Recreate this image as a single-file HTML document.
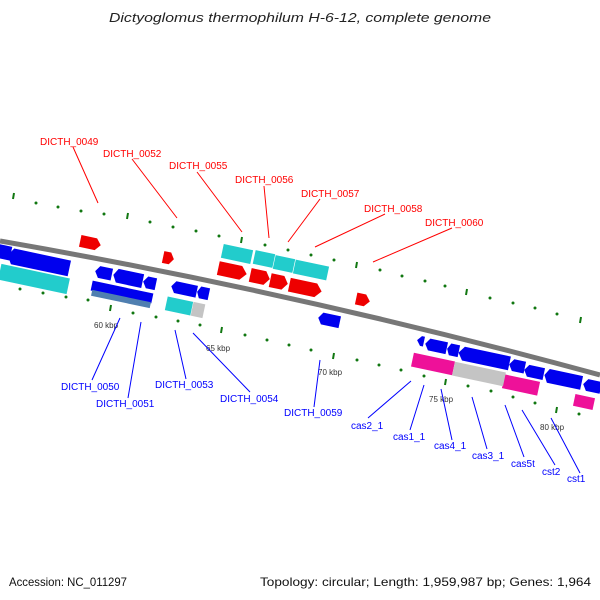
<!DOCTYPE html>
<html><head><meta charset="utf-8"><style>
body{margin:0;background:#fff}
svg{display:block;font-family:"Liberation Sans",sans-serif}
.r{fill:#f00;font-size:10px}.b{fill:#00f;font-size:10px}.k{fill:#333;font-size:8px}
</style></head><body>
<svg width="600" height="600" viewBox="0 0 600 600">
<text x="109" y="22" textLength="382" lengthAdjust="spacingAndGlyphs" font-size="13" font-style="italic" fill="#222">Dictyoglomus thermophilum H-6-12, complete genome</text>
<path d="M0,241 Q300,293 600,375" stroke="#777" stroke-width="5" fill="none"/>
<g stroke="none">
<g fill="#ee0000">
<polygon transform="translate(90,243) rotate(12)" points="-10,-6 6,-6 11,0 6,6 -10,6"/>
<polygon transform="translate(168,258) rotate(12)" points="-5,-6 2,-6 6,0 2,6 -5,6"/>
<polygon transform="translate(232,271) rotate(12)" points="-14,-7 9,-7 15,0 9,7 -14,7"/>
<polygon transform="translate(260,277) rotate(12)" points="-10,-7 5,-7 10,0 5,7 -10,7"/>
<polygon transform="translate(279,282) rotate(12)" points="-9,-7 4,-7 9,0 4,7 -9,7"/>
<polygon transform="translate(305,288) rotate(12)" points="-16,-7 11,-7 17,0 11,7 -16,7"/>
<polygon transform="translate(363,300) rotate(12)" points="-7,-6 2,-6 7,0 2,6 -7,6"/>
</g>
<g fill="#22cccc">
<rect transform="translate(237,254) rotate(12)" x="-15" y="-7" width="30" height="14"/>
<rect transform="translate(264,259) rotate(12)" x="-10" y="-7" width="20" height="14"/>
<rect transform="translate(284,264) rotate(12)" x="-10" y="-7" width="20" height="14"/>
<rect transform="translate(311,270) rotate(12)" x="-17" y="-7" width="34" height="14"/>
<rect transform="translate(34,279) rotate(12)" x="-35" y="-8" width="70" height="16"/>
<rect transform="translate(179,306) rotate(12)" x="-13" y="-7" width="26" height="14"/>
</g>
<rect transform="translate(198,310) rotate(12)" x="-6" y="-7" width="12" height="14" fill="#c4c4c4"/>
<g fill="#0000ee">
<polygon transform="translate(3,252) rotate(12)" points="-8,-7 8,-7 8,7 -8,7"/>
<polygon transform="translate(39,262) rotate(12)" points="-27,-8 31,-8 31,8 -27,8 -32,0"/>
<polygon transform="translate(104,273) rotate(12)" points="-5,-6 8,-6 8,6 -5,6 -9,0"/>
<polygon transform="translate(128,278) rotate(12)" points="-11,-7 15,-7 15,7 -11,7 -15,0"/>
<polygon transform="translate(150,283) rotate(12)" points="-3,-6 6,-6 6,6 -3,6 -7,0"/>
<rect transform="translate(122,292) rotate(12)" x="-31" y="-5" width="62" height="10"/>
<polygon transform="translate(184,289) rotate(12)" points="-9,-6 13,-6 13,6 -9,6 -13,0"/>
<polygon transform="translate(203,293) rotate(12)" points="-3,-6 6,-6 6,6 -3,6 -6,0"/>
<polygon transform="translate(329,320) rotate(12)" points="-7,-6 11,-6 11,6 -7,6 -11,0"/>
<polygon transform="translate(421,341) rotate(12)" points="0,-5 3,-5 3,5 0,5 -4,0"/>
<polygon transform="translate(436,346) rotate(12)" points="-7,-6 11,-6 11,6 -7,6 -11,0"/>
<polygon transform="translate(453,350) rotate(12)" points="-3,-6 6,-6 6,6 -3,6 -6,0"/>
<polygon transform="translate(484,358) rotate(12)" points="-21,-7 26,-7 26,7 -21,7 -26,0"/>
<polygon transform="translate(517,366) rotate(12)" points="-4,-6 8,-6 8,6 -4,6 -8,0"/>
<polygon transform="translate(534,372) rotate(12)" points="-6,-6 10,-6 10,6 -6,6 -10,0"/>
<polygon transform="translate(563,379) rotate(12)" points="-15,-7 19,-7 19,7 -15,7 -19,0"/>
<polygon transform="translate(592,386) rotate(12)" points="-5,-6 9,-6 9,6 -5,6 -9,0"/>
</g>
<rect transform="translate(121,299) rotate(12)" x="-30" y="-3" width="60" height="6" fill="#4f7fb0"/>
<g fill="#ee1199">
<rect transform="translate(433,364) rotate(12)" x="-21" y="-7" width="42" height="14"/>
<rect transform="translate(521,385) rotate(12)" x="-18" y="-7" width="36" height="14"/>
<rect transform="translate(584,402) rotate(12)" x="-10" y="-6" width="20" height="12"/>
</g>
<rect transform="translate(479,374) rotate(12)" x="-26" y="-7" width="52" height="14" fill="#c4c4c4"/>
</g>
<g fill="#117711" stroke="#117711">
<g stroke="none">
<circle cx="36" cy="203" r="1.5"/><circle cx="58" cy="207" r="1.5"/><circle cx="81" cy="211" r="1.5"/><circle cx="104" cy="214" r="1.5"/>
<circle cx="150" cy="222" r="1.5"/><circle cx="173" cy="227" r="1.5"/><circle cx="196" cy="231" r="1.5"/><circle cx="219" cy="236" r="1.5"/>
<circle cx="265" cy="245" r="1.5"/><circle cx="288" cy="250" r="1.5"/><circle cx="311" cy="255" r="1.5"/><circle cx="334" cy="260" r="1.5"/>
<circle cx="380" cy="270" r="1.5"/><circle cx="402" cy="276" r="1.5"/><circle cx="425" cy="281" r="1.5"/><circle cx="445" cy="286" r="1.5"/>
<circle cx="490" cy="298" r="1.5"/><circle cx="513" cy="303" r="1.5"/><circle cx="535" cy="308" r="1.5"/><circle cx="557" cy="314" r="1.5"/>
<circle cx="20" cy="289" r="1.5"/><circle cx="43" cy="293" r="1.5"/><circle cx="66" cy="297" r="1.5"/><circle cx="88" cy="300" r="1.5"/>
<circle cx="133" cy="313" r="1.5"/><circle cx="156" cy="317" r="1.5"/><circle cx="178" cy="321" r="1.5"/><circle cx="200" cy="325" r="1.5"/>
<circle cx="245" cy="335" r="1.5"/><circle cx="267" cy="340" r="1.5"/><circle cx="289" cy="345" r="1.5"/><circle cx="311" cy="350" r="1.5"/>
<circle cx="357" cy="360" r="1.5"/><circle cx="379" cy="365" r="1.5"/><circle cx="401" cy="370" r="1.5"/><circle cx="424" cy="376" r="1.5"/>
<circle cx="468" cy="386" r="1.5"/><circle cx="491" cy="391" r="1.5"/><circle cx="513" cy="397" r="1.5"/><circle cx="535" cy="403" r="1.5"/>
<circle cx="579" cy="414" r="1.5"/>
</g>
<g stroke-width="2">
<path d="M14,193 l-1,6 M128,213 l-1,6 M242,237 l-1,6 M357,262 l-1,6 M467,289 l-1,6 M581,317 l-1,6"/>
<path d="M111,305 l-1,6 M222,327 l-1,6 M334,353 l-1,6 M446,379 l-1,6 M557,407 l-1,6"/>
</g>
</g>
<text class="k" x="94" y="328">60 kbp</text><text class="k" x="206" y="351">65 kbp</text>
<text class="k" x="318" y="375">70 kbp</text><text class="k" x="429" y="402">75 kbp</text><text class="k" x="540" y="430">80 kbp</text>
<g stroke="#f00" stroke-width="1">
<path d="M73,147 L98,203 M132,159 L177,218 M197,172 L242,232 M264,186 L269,238 M320,199 L288,242 M385,214 L315,247 M452,228 L373,262"/>
</g>
<text class="r" x="40" y="145">DICTH_0049</text><text class="r" x="103" y="157">DICTH_0052</text>
<text class="r" x="169" y="169">DICTH_0055</text><text class="r" x="235" y="183">DICTH_0056</text>
<text class="r" x="301" y="197">DICTH_0057</text><text class="r" x="364" y="212">DICTH_0058</text>
<text class="r" x="425" y="226">DICTH_0060</text>
<g stroke="#00f" stroke-width="1">
<path d="M92,380 L120,318 M128,398 L141,322 M186,379 L175,330 M250,392 L193,333 M314,407 L320,360 M368,418 L411,381 M410,430 L424,385 M452,440 L441,389 M487,449 L472,397 M524,457 L505,405 M555,465 L522,410 M580,473 L551,418"/>
</g>
<text class="b" x="61" y="390">DICTH_0050</text><text class="b" x="96" y="407">DICTH_0051</text>
<text class="b" x="155" y="388">DICTH_0053</text><text class="b" x="220" y="402">DICTH_0054</text>
<text class="b" x="284" y="416">DICTH_0059</text><text class="b" x="351" y="429">cas2_1</text>
<text class="b" x="393" y="440">cas1_1</text><text class="b" x="434" y="449">cas4_1</text>
<text class="b" x="472" y="459">cas3_1</text><text class="b" x="511" y="467">cas5t</text>
<text class="b" x="542" y="475">cst2</text><text class="b" x="567" y="482">cst1</text>
<text x="9" y="586" font-size="12" fill="#111" textLength="118" lengthAdjust="spacingAndGlyphs">Accession: NC_011297</text>
<text x="260" y="586" font-size="12" fill="#111" textLength="331" lengthAdjust="spacingAndGlyphs">Topology: circular; Length: 1,959,987 bp; Genes: 1,964</text>
</svg>
</body></html>
